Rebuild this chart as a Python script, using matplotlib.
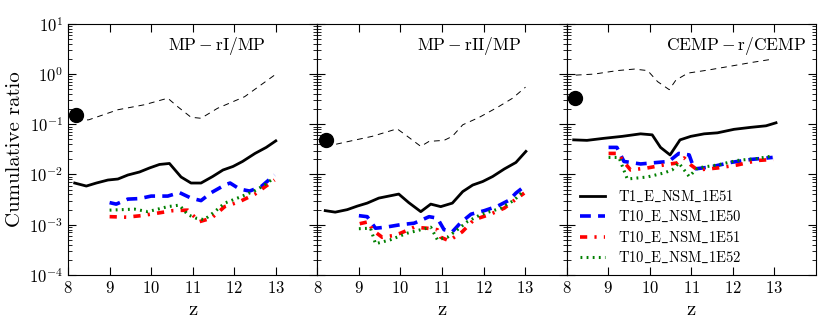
#!/usr/bin/env python3
"""
Cumulative ratio of r-process enhanced stars vs redshift, three panels.
"""
import numpy as np
import matplotlib
matplotlib.use('Agg')
import matplotlib.pyplot as plt

plt.rcParams['font.family'] = 'cmr10'
plt.rcParams['mathtext.fontset'] = 'cm'
plt.rcParams['axes.unicode_minus'] = False
plt.rcParams['axes.formatter.use_mathtext'] = True

panel_titles = [r'$\mathrm{MP-rI/MP}$', r'$\mathrm{MP-rII/MP}$', r'$\mathrm{CEMP-r/CEMP}$']
series_labels = [r'$\mathrm{T1\_E\_NSM\_1E51}$', r'$\mathrm{T10\_E\_NSM\_1E50}$',
                 r'$\mathrm{T10\_E\_NSM\_1E51}$', r'$\mathrm{T10\_E\_NSM\_1E52}$']

# observed value (big dot) per panel, at z = 8.2
obs_z = 8.2
obs_val = [0.15, 0.049, 0.33]

# --- panel 1: MP-rI/MP (log10 values) ---
p1_ref_z = [8.2, 8.5, 9.2, 9.84, 10.4, 10.64, 10.96, 11.2, 11.6, 12.25, 12.97]
p1_ref = [-0.93, -0.91, -0.71, -0.61, -0.48, -0.65, -0.86, -0.88, -0.68, -0.45, -0.02]
p1_t1_z = [8.16, 8.44, 8.68, 8.96, 9.2, 9.44, 9.72, 9.96, 10.2, 10.44, 10.72, 10.96, 11.2,
           11.48, 11.73, 11.97, 12.2, 12.5, 12.77, 13.0]
p1_t1 = [-2.17, -2.23, -2.17, -2.11, -2.09, -2.01, -1.95, -1.87, -1.80, -1.78, -2.05, -2.17,
         -2.17, -2.04, -1.91, -1.84, -1.74, -1.58, -1.46, -1.33]
p1_e50_z = [9.0, 9.16, 9.44, 9.72, 10.0, 10.4, 10.68, 10.96, 11.2, 11.45, 11.77, 11.9, 12.13,
            12.37, 12.65, 12.97]
p1_e50 = [-2.56, -2.59, -2.49, -2.48, -2.43, -2.43, -2.36, -2.47, -2.52, -2.36, -2.21, -2.17,
          -2.29, -2.33, -2.24, -2.01]
p1_e51_z = [9.0, 9.4, 9.76, 10.15, 10.52, 10.88, 11.16, 11.45, 11.77, 12.13, 12.5, 12.8, 12.97]
p1_e51 = [-2.84, -2.85, -2.82, -2.77, -2.72, -2.71, -2.94, -2.87, -2.64, -2.54, -2.39, -2.21, -2.11]
p1_e52_z = [9.0, 9.6, 9.92, 10.4, 10.68, 10.88, 11.08, 11.28, 11.53, 11.77, 12.17, 12.5, 12.73, 12.95]
p1_e52 = [-2.71, -2.69, -2.74, -2.64, -2.61, -2.80, -2.87, -2.90, -2.74, -2.57, -2.44, -2.32,
          -2.21, -2.07]

# --- panel 2: MP-rII/MP ---
p2_ref_z = [8.2, 8.27, 8.76, 9.32, 9.92, 10.12, 10.49, 10.69, 11.05, 11.25, 11.5, 11.9, 12.34,
            12.7, 13.01]
p2_ref = [-1.43, -1.43, -1.34, -1.24, -1.09, -1.21, -1.44, -1.34, -1.32, -1.24, -1.01, -0.86,
          -0.66, -0.48, -0.26]
p2_t1_z = [8.19, 8.43, 8.72, 8.96, 9.2, 9.48, 9.72, 9.96, 10.2, 10.49, 10.73, 10.97, 11.25,
           11.5, 11.74, 11.98, 12.22, 12.5, 12.78, 13.02]
p2_t1 = [-2.72, -2.75, -2.70, -2.63, -2.57, -2.47, -2.43, -2.39, -2.56, -2.74, -2.59, -2.64,
         -2.57, -2.34, -2.21, -2.14, -2.04, -1.89, -1.76, -1.54]
p2_e50_z = [9.0, 9.2, 9.4, 9.64, 10.0, 10.33, 10.53, 10.69, 10.89, 11.05, 11.25, 11.45, 11.7,
            12.02, 12.34, 12.62, 12.78, 12.98]
p2_e50 = [-2.82, -2.84, -3.07, -3.05, -3.00, -2.97, -2.90, -2.84, -2.87, -3.10, -3.14, -2.96,
          -2.79, -2.72, -2.63, -2.51, -2.37, -2.24]
p2_e51_z = [9.02, 9.24, 9.32, 9.56, 9.8, 10.0, 10.33, 10.64, 10.89, 10.97, 11.17, 11.49, 11.77,
            12.14, 12.5, 12.78, 12.98]
p2_e51 = [-2.98, -2.94, -3.10, -3.25, -3.22, -3.17, -3.05, -3.07, -3.10, -3.25, -3.32, -3.14,
          -2.90, -2.80, -2.67, -2.49, -2.37]
p2_e52_z = [9.0, 9.28, 9.4, 9.76, 10.16, 10.49, 10.73, 10.89, 11.13, 11.37, 11.61, 11.93, 12.42,
            12.74, 12.94]
p2_e52 = [-3.08, -3.07, -3.38, -3.30, -3.17, -3.10, -3.05, -3.30, -3.25, -3.10, -2.94, -2.80,
          -2.67, -2.51, -2.34]

# --- panel 3: CEMP-r/CEMP ---
p3_ref_z = [8.22, 8.66, 9.22, 9.63, 9.95, 10.19, 10.47, 10.63, 10.92, 11.4, 11.96, 12.44, 12.97]
p3_ref = [-0.02, 0.0, 0.07, 0.10, 0.07, -0.15, -0.31, -0.12, 0.02, 0.08, 0.16, 0.23, 0.30]
p3_t1_z = [8.17, 8.49, 8.89, 9.34, 9.78, 10.06, 10.26, 10.49, 10.73, 10.99, 11.31, 11.63, 12.03,
           12.44, 12.8, 13.04]
p3_t1 = [-1.31, -1.32, -1.28, -1.24, -1.19, -1.21, -1.46, -1.61, -1.31, -1.24, -1.19, -1.17,
         -1.10, -1.06, -1.03, -0.97]
p3_e50_z = [9.01, 9.21, 9.38, 9.78, 10.18, 10.46, 10.7, 10.95, 11.07, 11.47, 11.95, 12.44, 12.96]
p3_e50 = [-1.46, -1.46, -1.74, -1.79, -1.76, -1.74, -1.58, -1.61, -1.89, -1.85, -1.76, -1.70, -1.66]
p3_e51_z = [9.01, 9.26, 9.34, 9.54, 9.94, 10.34, 10.66, 10.83, 10.99, 11.15, 11.63, 12.11,
            12.6, 12.98]
p3_e51 = [-1.58, -1.58, -1.71, -1.91, -1.87, -1.81, -1.77, -1.67, -1.81, -1.91, -1.87, -1.81,
          -1.72, -1.70]
p3_e52_z = [9.01, 9.26, 9.46, 9.94, 10.34, 10.54, 10.7, 10.95, 11.15, 11.63, 12.11, 12.6, 12.96]
p3_e52 = [-1.66, -1.66, -2.09, -2.05, -1.97, -1.91, -1.77, -2.04, -1.87, -1.81, -1.72, -1.68, -1.63]

panels = [
    (p1_ref_z, p1_ref, [(p1_t1_z, p1_t1), (p1_e50_z, p1_e50), (p1_e51_z, p1_e51), (p1_e52_z, p1_e52)]),
    (p2_ref_z, p2_ref, [(p2_t1_z, p2_t1), (p2_e50_z, p2_e50), (p2_e51_z, p2_e51), (p2_e52_z, p2_e52)]),
    (p3_ref_z, p3_ref, [(p3_t1_z, p3_t1), (p3_e50_z, p3_e50), (p3_e51_z, p3_e51), (p3_e52_z, p3_e52)]),
]

styles = [
    dict(color='black', linestyle='-', linewidth=2.0),
    dict(color='blue', linestyle=(0, (3, 2)), linewidth=2.6),
    dict(color='red', linestyle=(0, (2, 2, 0.6, 2)), linewidth=2.6),
    dict(color='green', linestyle=(0, (0.6, 1.4)), linewidth=2.2),
]

fig, axes = plt.subplots(1, 3, figsize=(8.3, 3.32), dpi=100, sharey=True)
fig.subplots_adjust(left=0.082, right=0.983, bottom=0.172, top=0.928, wspace=0)

for i, ax in enumerate(axes):
    ref_z, ref, series = panels[i]
    ax.plot(ref_z, 10 ** np.array(ref), color='black', linestyle=(0, (6, 5)), linewidth=0.7)
    for (zz, vv), st, lab in zip(series, styles, series_labels):
        ax.plot(zz, 10 ** np.array(vv), label=lab, **st)
    ax.plot([obs_z], [obs_val[i]], 'o', color='black', markersize=10)
    ax.set_yscale('log')
    ax.set_xlim(8, 14)
    ax.set_ylim(1e-4, 1e1)
    ax.set_xticks([8, 9, 10, 11, 12, 13])
    ax.tick_params(which='both', direction='in', top=True, right=True, labelsize=12)
    ax.tick_params(which='major', length=6)
    ax.tick_params(which='minor', length=3)
    ax.set_xlabel(r'$\mathrm{z}$', fontsize=15)
    ax.text(10.4, 10 ** 0.56, panel_titles[i], fontsize=12.5, ha='left', va='center')

axes[0].set_ylabel('Cumulative ratio', fontsize=15)
axes[2].legend(loc='upper left', bbox_to_anchor=(0.0, 0.395), frameon=False, fontsize=10.5,
               handlelength=1.7, handletextpad=0.9, labelspacing=0.35)

plt.savefig('out.png', dpi=100)
plt.close()
